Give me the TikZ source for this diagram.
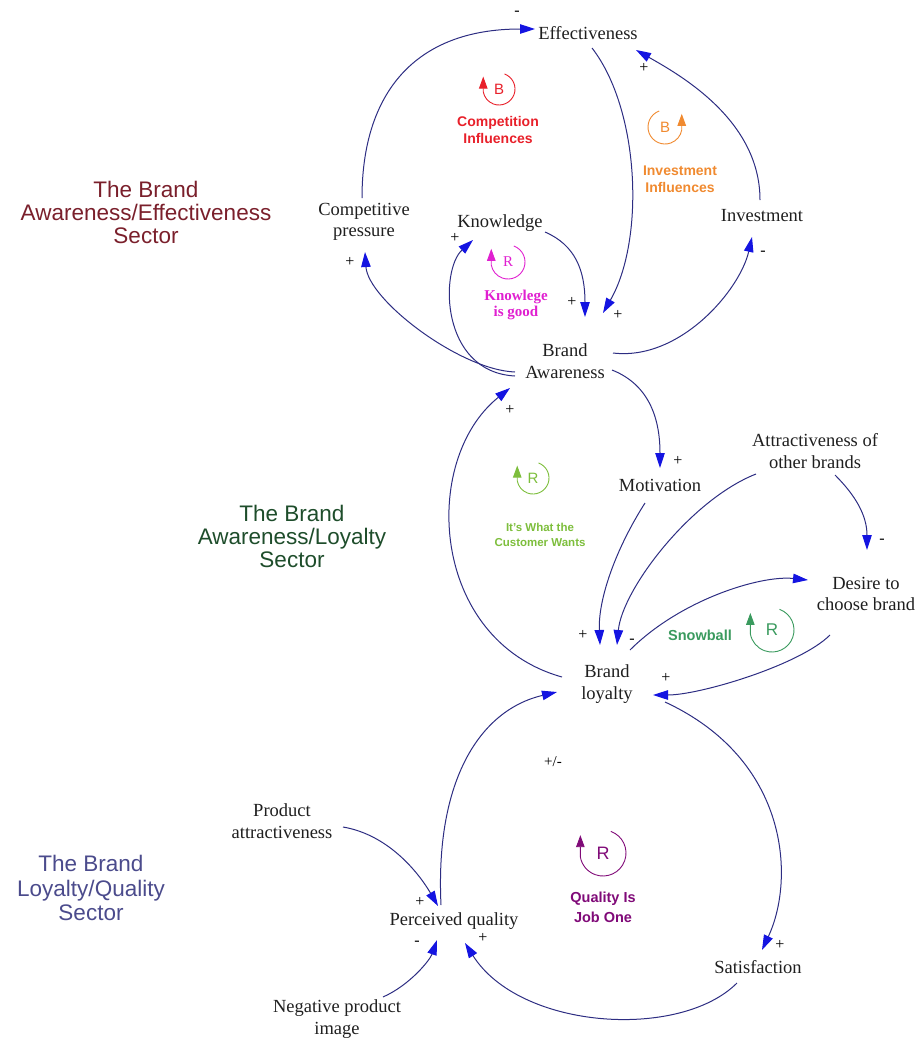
\documentclass[tikz,border=0pt]{standalone}
\usepackage{fontspec}
\setmainfont{Liberation Serif}
\setsansfont{Liberation Sans}
\usetikzlibrary{arrows.meta}

\definecolor{linkline}{RGB}{45,45,130}
\definecolor{linkhead}{RGB}{20,20,225}
\definecolor{secred}{RGB}{122,31,43}
\definecolor{secgreen}{RGB}{30,77,43}
\definecolor{secblue}{RGB}{75,75,140}
\definecolor{compred}{RGB}{232,32,42}
\definecolor{invorange}{RGB}{240,138,48}
\definecolor{knowpink}{RGB}{224,32,208}
\definecolor{custgreen}{RGB}{125,190,60}
\definecolor{snowgreen}{RGB}{58,154,94}
\definecolor{qualpurple}{RGB}{128,10,120}

% loop marker: open circle with the arrow on the left (#1 node, #2 radius, #3 colour)
\newcommand\cldloopleft[3]{%
  \draw[#3, line width=0.9pt, -{Triangle[length=12pt,width=8.5pt]}]
    ([shift={(70:#2)}]#1.center) arc[start angle=70, end angle=-170, radius=#2]
    -- ++(0,{0.95*#2});}
% loop marker with the arrow on the right
\newcommand\cldloopright[3]{%
  \draw[#3, line width=0.9pt, -{Triangle[length=12pt,width=8.5pt]}]
    ([shift={(110:#2)}]#1.center) arc[start angle=110, end angle=350, radius=#2]
    -- ++(0,{0.95*#2});}

\begin{document}
\begin{tikzpicture}[x=1pt, y=1pt,
  var/.style={font=\fontsize{18.5}{21.5}\selectfont, align=center, inner sep=1pt, text=black!88},
  sign/.style={font=\fontsize{16}{16}\selectfont, inner sep=0pt},
  link/.style={draw=linkline, line width=1pt, -{Triangle[length=15pt,width=9.5pt,color=linkhead]}},
  sector/.style={font=\sffamily\fontsize{22.5}{23}\selectfont, align=center},
  loopname/.style={font=\sffamily\bfseries\fontsize{14}{17}\selectfont, align=center},
  looplet/.style={font=\sffamily\fontsize{15}{15}\selectfont, inner sep=0pt},
]
\useasboundingbox (0,0) rectangle (920,-1039);

% sector titles
\node[sector, text=secred]   (secA) at (146,-212) {The Brand\\Awareness/Effectiveness\\Sector};
\node[sector, text=secgreen] (secB) at (292,-536) {The Brand\\Awareness/Loyalty\\Sector};
\node[sector, text=secblue,  font=\sffamily\fontsize{22.5}{24.5}\selectfont] (secC) at (91,-888) {The Brand\\Loyalty/Quality\\Sector};

% variables
\node[var] (eff)  at (588,-33)  {Effectiveness};
\node[var] (cp)   at (364,-222) {Competitive\\pressure};
\node[var] (know) at (500,-223) {Knowledge};
\node[var] (inv)  at (762,-216) {Investment};
\node[var] (ba)   at (565,-361) {Brand\\Awareness};
\node[var] (mot)  at (660,-485) {Motivation};
\node[var] (att)  at (815,-451) {Attractiveness of\\other brands};
\node[var] (des)  at (866,-594) {Desire to\\choose brand};
\node[var] (bl)   at (607,-684) {Brand\\loyalty};
\node[var] (pa)   at (282,-821) {Product\\attractiveness};
\node[var] (pq)   at (454,-921) {Perceived quality};
\node[var] (npi)  at (337,-1019) {Negative product\\image};
\node[var] (sat)  at (758,-967) {Satisfaction};

% causal links
\draw[link] ([shift={(-2,24)}]cp.center) .. controls +(0,105) and +(-120,0) .. ([shift={(-53,4)}]eff.center);
\draw[link] ([shift={(4,-15)}]eff.center) .. controls +(48,-62) and +(42,73) .. ([shift={(38,48)}]ba.center);
\draw[link] ([shift={(-2,16)}]inv.center) .. controls +(0,80) and +(44,-25) .. ([shift={(48,-17)}]eff.center);
\draw[link] ([shift={(48,8)}]ba.center) .. controls +(67,-8) and +(-12,-53) .. ([shift={(-10,-21)}]inv.center);
\draw[link] ([shift={(-50,-11)}]ba.center) .. controls +(-55,2) and +(3,-48) .. ([shift={(1,-30)}]cp.center);
\draw[link] ([shift={(-50,-15)}]ba.center) .. controls +(-75,4) and +(-33,-30) .. ([shift={(-27,-17)}]know.center);
\draw[link] ([shift={(45,-9)}]know.center) .. controls +(30,-13) and +(0,47) .. ([shift={(20,44)}]ba.center);
\draw[link] ([shift={(47,-9)}]ba.center) .. controls +(38,-15) and +(0,48) .. ([shift={(0,17)}]mot.center);
\draw[link] ([shift={(20,-24)}]att.center) .. controls +(20,-20) and +(0,35) .. ([shift={(1,44)}]des.center);
\draw[link] ([shift={(-59,-23)}]att.center) .. controls +(-66,-26) and +(5,55) .. ([shift={(10,39)}]bl.center);
\draw[link] ([shift={(-15,-18)}]mot.center) .. controls +(-30,-47) and +(-2,45) .. ([shift={(-7,39)}]bl.center);
\draw[link] ([shift={(23,34)}]bl.center) .. controls +(50,50) and +(-48,5) .. ([shift={(-58,14)}]des.center);
\draw[link] ([shift={(-36,-41)}]des.center) .. controls +(-30,-30) and +(47,0) .. ([shift={(46,-11)}]bl.center);
\draw[link] ([shift={(-45,7)}]bl.center) .. controls +(-132,37) and +(-90,-72) .. ([shift={(-55,-27)}]ba.center);
\draw[link] ([shift={(-13,16)}]pq.center) .. controls +(-6,125) and +(-77,-18) .. ([shift={(-50,-8)}]bl.center);
\draw[link] ([shift={(58,-18)}]bl.center) .. controls +(125,-58) and +(33,70) .. ([shift={(4,17)}]sat.center);
\draw[link] ([shift={(-21,-16)}]sat.center) .. controls +(-57,-57) and +(55,-87) .. ([shift={(11,-22)}]pq.center);
\draw[link] ([shift={(61,-6)}]pa.center) .. controls +(47,-8) and +(-18,31) .. ([shift={(-16,15)}]pq.center);
\draw[link] ([shift={(46,22)}]npi.center) .. controls +(27,12) and +(-7,-20) .. ([shift={(-17,-19)}]pq.center);

% polarities
\node[sign] (s1)  at (517,-13)  {-};
\node[sign] (s2)  at (644,-68)  {+};
\node[sign] (s3)  at (350,-262) {+};
\node[sign] (s4)  at (455,-238) {+};
\node[sign] (s5)  at (572,-302) {+};
\node[sign] (s6)  at (618,-315) {+};
\node[sign] (s7)  at (763,-253) {-};
\node[sign] (s8)  at (510,-410) {+};
\node[sign] (s9)  at (678,-461) {+};
\node[sign] (s10) at (882,-541) {-};
\node[sign] (s11) at (583,-635) {+};
\node[sign] (s12) at (632,-641) {-};
\node[sign] (s13) at (666,-678) {+};
\node[sign, font=\fontsize{15}{15}\selectfont] (s14) at (553,-762) {+/-};
\node[sign] (s15) at (420,-902) {+};
\node[sign] (s16) at (417,-943) {-};
\node[sign] (s17) at (483,-938) {+};
\node[sign] (s18) at (780,-945) {+};

% feedback loop markers
\node[looplet, text=compred]   (lcomp) at (499,-89)  {B};
\node[looplet, text=invorange] (linv)  at (665,-127) {B};
\node[looplet, text=knowpink, font=\fontsize{15}{15}\selectfont] (lknow) at (508,-262) {R};
\node[looplet, text=custgreen] (lcust) at (533,-478) {R};
\node[looplet, text=snowgreen, font=\sffamily\fontsize{17}{17}\selectfont] (lsnow) at (772,-630) {R};
\node[looplet, text=qualpurple, font=\sffamily\fontsize{18}{18}\selectfont] (lqual) at (603,-853) {R};
\cldloopleft{lcomp}{16}{compred}
\cldloopright{linv}{17}{invorange}
\cldloopleft{lknow}{17}{knowpink}
\cldloopleft{lcust}{16}{custgreen}
\cldloopleft{lsnow}{22}{snowgreen}
\cldloopleft{lqual}{23}{qualpurple}

% loop names
\node[loopname, text=compred]    (ncomp) at (498,-130) {Competition\\Influences};
\node[loopname, text=invorange]  (ninv)  at (680,-179) {Investment\\Influences};
\node[loopname, text=knowpink, font=\bfseries\fontsize{15}{16}\selectfont] (nknow) at (516,-305) {Knowlege\\is good};
\node[loopname, text=custgreen, font=\sffamily\bfseries\fontsize{11.5}{15}\selectfont] (ncust) at (540,-535) {It's What the\\Customer Wants};
\node[loopname, text=snowgreen, font=\sffamily\bfseries\fontsize{14.5}{17}\selectfont] (nsnow) at (700,-635) {Snowball};
\node[loopname, text=qualpurple, font=\sffamily\bfseries\fontsize{14.5}{20}\selectfont] (nqual) at (603,-907) {Quality Is\\Job One};
\end{tikzpicture}
\end{document}
